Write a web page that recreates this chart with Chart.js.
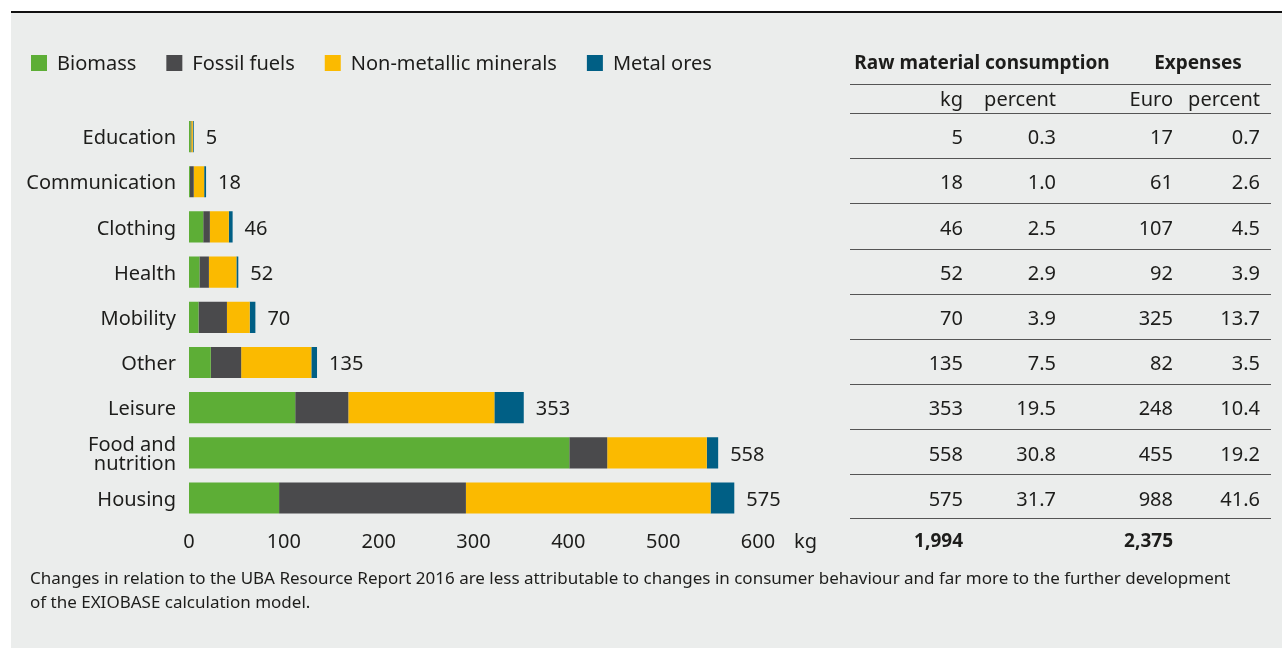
<!DOCTYPE html>
<html>
<head>
<meta charset="utf-8">
<script src="https://cdn.jsdelivr.net/npm/chart.js@4/dist/chart.umd.min.js"></script>
<style>
  html, body { margin: 0; padding: 0; background: #fff; }
  body { width: 1282px; height: 648px; position: relative; overflow: hidden; font-family: "Noto Sans", sans-serif; color: #1d1d1b; }
  #panel { position: absolute; left: 11px; top: 11px; right: 0; bottom: 0; background: #ebedec; border-top: 2px solid #111; }
  #chart { position: absolute; left: 0; top: 0; }
  #note { position: absolute; left: 30px; top: 566px; font-size: 17px; line-height: 24px; white-space: nowrap; }
</style>
</head>
<body>
<div id="panel"></div>
<canvas id="chart" width="1282" height="648"></canvas>
<div id="note">Changes in relation to the UBA Resource Report 2016 are less attributable to changes in consumer behaviour and far more to the further development<br>of the EXIOBASE calculation model.</div>
<script>
const categories = ['Education', 'Communication', 'Clothing', 'Health', 'Mobility', 'Other', 'Leisure', ['Food and', 'nutrition'], 'Housing'];

// kg per person, split by raw material group
const biomass     = [1.6, 1, 15, 11, 10, 23, 112, 401, 95];
const fossilFuels = [0.8, 4, 7, 10, 30, 32, 56, 40, 197];
const nonMetallic = [1.6, 11, 20, 29, 24, 74, 154, 105, 258];
const metalOres   = [1.0, 2, 4, 2, 6, 6, 31, 12, 25];

// table columns
const kgTotal    = [5, 18, 46, 52, 70, 135, 353, 558, 575];
const kgPercent  = ['0.3', '1.0', '2.5', '2.9', '3.9', '7.5', '19.5', '30.8', '31.7'];
const euro       = [17, 61, 107, 92, 325, 82, 248, 455, 988];
const euroPercent = ['0.7', '2.6', '4.5', '3.9', '13.7', '3.5', '10.4', '19.2', '41.6'];
const kgSum = '1,994';
const euroSum = '2,375';

const xTicks = [0, 100, 200, 300, 400, 500, 600];

const FONT = '"Noto Sans", sans-serif';
const INK = '#1d1d1b';

const legendPlugin = {
    id: 'boxLegend',
    afterDraw(chart) {
        const ctx = chart.ctx;
        ctx.save();
        ctx.font = '20px ' + FONT;
        ctx.textBaseline = 'middle';
        ctx.textAlign = 'left';
        let x = 31;
        chart.data.datasets.forEach(ds => {
            ctx.fillStyle = ds.backgroundColor;
            ctx.fillRect(x, 55, 16, 16);
            ctx.fillStyle = INK;
            ctx.fillText(ds.label, x + 26, 64);
            x += 26 + ctx.measureText(ds.label).width + 30;
        });
        ctx.restore();
    }
};

const totalsPlugin = {
    id: 'totals',
    afterDatasetsDraw(chart) {
        const ctx = chart.ctx;
        const xs = chart.scales.x, ys = chart.scales.y;
        ctx.save();
        ctx.font = '20px ' + FONT;
        ctx.fillStyle = INK;
        ctx.textBaseline = 'middle';
        ctx.textAlign = 'left';
        kgTotal.forEach((v, i) => {
            ctx.fillText(String(v), xs.getPixelForValue(v) + 12, ys.getPixelForValue(i) + 2);
        });
        // unit next to the axis
        ctx.fillText('kg', 794, 542);
        ctx.restore();
    }
};

const tablePlugin = {
    id: 'sideTable',
    afterDraw(chart) {
        const ctx = chart.ctx;
        const ys = chart.scales.y;
        const area = chart.chartArea;
        const cols = [963, 1056, 1173, 1260];
        const hline = y => {
            ctx.beginPath();
            ctx.moveTo(850, Math.round(y) + 0.5);
            ctx.lineTo(1271, Math.round(y) + 0.5);
            ctx.stroke();
        };
        ctx.save();
        ctx.strokeStyle = '#555';
        ctx.lineWidth = 1;
        ctx.fillStyle = INK;
        ctx.textBaseline = 'middle';

        ctx.font = 'bold 19px ' + FONT;
        ctx.textAlign = 'center';
        ctx.fillText('Raw material consumption', 982, 64);
        ctx.fillText('Expenses', 1198, 64);
        hline(84);

        ctx.font = '20px ' + FONT;
        ctx.textAlign = 'right';
        ctx.fillText('kg', cols[0], 100);
        ctx.fillText('percent', cols[1], 100);
        ctx.fillText('Euro', cols[2], 100);
        ctx.fillText('percent', cols[3], 100);
        hline(area.top - 1);

        categories.forEach((c, i) => {
            const y = ys.getPixelForValue(i) + 2;
            ctx.fillText(String(kgTotal[i]), cols[0], y);
            ctx.fillText(kgPercent[i], cols[1], y);
            ctx.fillText(String(euro[i]), cols[2], y);
            ctx.fillText(euroPercent[i], cols[3], y);
            const next = i < categories.length - 1 ? ys.getPixelForValue(i + 1) : null;
            hline(next !== null ? (ys.getPixelForValue(i) + next) / 2 - 1 : area.bottom - 3);
        });

        ctx.font = 'bold 19px ' + FONT;
        ctx.fillText(kgSum, cols[0], 542);
        ctx.fillText(euroSum, cols[2], 542);
        ctx.restore();
    }
};

const series = [
    { label: 'Biomass', data: biomass, color: '#5dae36' },
    { label: 'Fossil fuels', data: fossilFuels, color: '#4a4a4c' },
    { label: 'Non-metallic minerals', data: nonMetallic, color: '#fbba00' },
    { label: 'Metal ores', data: metalOres, color: '#005f85' }
];

new Chart(document.getElementById('chart'), {
    type: 'bar',
    data: {
        labels: categories,
        datasets: series.map(s => ({
            label: s.label,
            data: s.data,
            backgroundColor: s.color,
            borderWidth: 0,
            categoryPercentage: 0.69,
            barPercentage: 1
        }))
    },
    options: {
        indexAxis: 'y',
        responsive: false,
        animation: false,
        layout: { padding: { top: 114, right: 524, bottom: 0, left: 0 } },
        plugins: {
            legend: { display: false },
            tooltip: { enabled: false }
        },
        scales: {
            x: {
                stacked: true,
                min: 0,
                max: 600,
                afterBuildTicks: s => { s.ticks = xTicks.map(v => ({ value: v })); },
                afterFit: s => { s.height = 127.4; },
                grid: { display: false, drawTicks: false },
                border: { display: false },
                ticks: { color: INK, font: { family: FONT, size: 20 }, padding: 10 }
            },
            y: {
                stacked: true,
                afterFit: s => { s.width = 189; },
                grid: { display: false, drawTicks: false },
                border: { display: false },
                ticks: { color: INK, font: { family: FONT, size: 20, lineHeight: 0.95 }, padding: 13, labelOffset: 2 }
            }
        }
    },
    plugins: [legendPlugin, totalsPlugin, tablePlugin]
});
</script>
</body>
</html>
